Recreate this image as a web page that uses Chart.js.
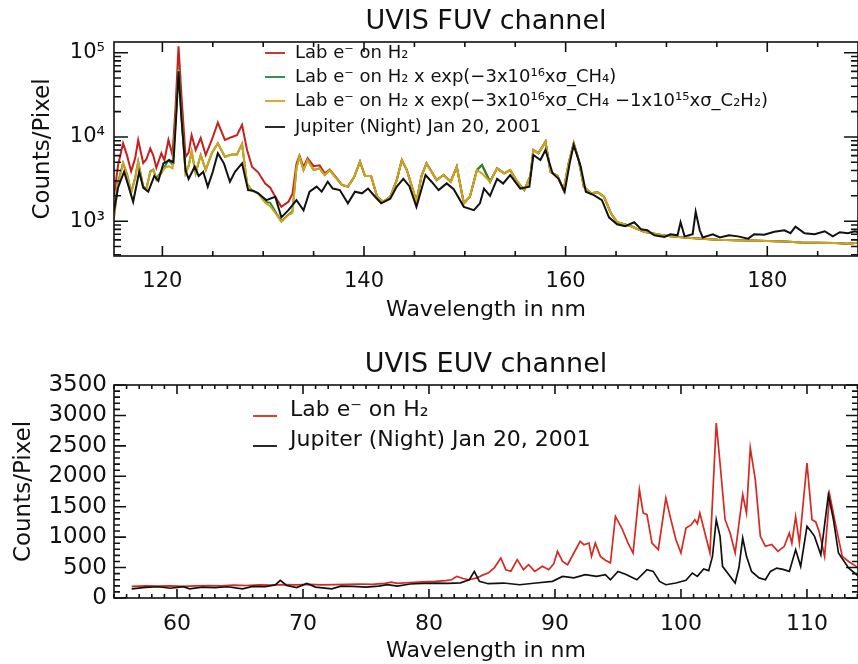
<!DOCTYPE html>
<html>
<head>
<meta charset="utf-8">
<script src="https://cdn.jsdelivr.net/npm/chart.js@4.4.1/dist/chart.umd.min.js"></script>
<style>
  html, body { margin: 0; padding: 0; background: #fff; }
  body { width: 858px; height: 664px; position: relative; overflow: hidden; }
  canvas { position: absolute; left: 0; }
  #fuv { top: 0; }
  #euv { top: 332px; }
</style>
</head>
<body>
<canvas id="fuv" width="858" height="332"></canvas>
<canvas id="euv" width="858" height="332"></canvas>
<script>
// ==================== FUV CHANNEL DATA ====================
// lab spectra share one wavelength grid (nm)
const labWave = [
  115.2, 115.6, 116.1, 116.5, 116.9, 117.3, 117.6, 118.1, 118.4, 118.8,
  119.1, 119.4, 119.9, 120.2, 120.6, 121.0, 121.3, 121.6, 121.9, 122.3,
  122.6, 122.9, 123.3, 123.8, 124.3, 124.9, 125.5, 126.2, 126.9, 127.4,
  127.9, 128.4, 128.9, 129.5, 130.2, 130.7, 131.2, 131.8, 132.5, 132.9,
  133.3, 133.6, 134.0, 134.4, 135.0, 135.6, 136.1, 136.6, 137.3, 137.8,
  138.4, 139.0, 139.6, 140.1, 140.7, 141.3, 141.9, 142.6, 143.25, 143.75,
  144.25, 144.75, 145.2, 145.7, 146.2, 146.7, 147.2, 147.9, 148.6, 149.2,
  149.9, 150.5, 151.2, 151.7, 152.5, 153.2, 153.9, 154.5, 155.2, 155.9,
  156.5, 156.8, 157.3, 158.0, 158.5, 159.2, 159.8, 160.3, 160.8, 161.3,
  161.8, 162.5, 163.2, 163.8, 164.5, 165.1, 165.8, 166.5, 167.2, 167.8,
  168.5, 169.1, 170.4, 171.8, 173.5, 175.1, 176.8, 178.4, 180.0, 181.7,
  183.4, 185.0, 186.7, 188.0, 189.0
];
// Lab e- on H2 (red)
const labH2 = [
  2000, 4600, 8400, 6000, 3900, 5600, 9200, 4900, 5400, 7300,
  6000, 4300, 6400, 5300, 9200, 6100, 22000, 119000, 30000, 5800,
  6500, 10500, 7000, 9700, 6100, 9200, 14800, 9200, 10000, 10500,
  13900, 7000, 4400, 3800, 2800, 2500, 1950, 1480, 1700, 2100,
  4800, 6000, 4400, 5600, 4500, 4600, 3700, 4100, 3250, 2700,
  2570, 3300, 5090, 3440, 3440, 1950, 1700, 1950, 3080, 5320,
  4050, 2570, 1700, 3440, 4860, 3860, 3080, 3530, 2940, 4430,
  1630, 1950, 4050, 4650, 2940, 4240, 3700, 4050, 2940, 2340,
  3440, 7000, 6400, 8800, 3860, 3440, 2340, 4860, 8400, 5320,
  2570, 2140, 2200, 1950, 1240, 970, 920, 870, 800, 750,
  720, 700, 660, 640, 620, 600, 595, 590, 580, 575,
  560, 555, 550, 540, 555
];
// x exp(-3e16 sigma_CH4) (green)
const labCH4 = [
  1150, 2900, 4900, 3600, 2200, 3300, 5100, 2600, 2400, 3900,
  4100, 3200, 3900, 4400, 5300, 4700, 15000, 66000, 18000, 3700,
  4500, 6680, 3700, 6100, 4050, 6400, 8400, 5830, 6200, 6200,
  8260, 2800, 2300, 2150, 1700, 1650, 1300, 1000, 1200, 1300,
  4300, 5830, 4050, 5320, 4050, 4240, 3530, 4050, 3180, 2700,
  2570, 3300, 5090, 3440, 3440, 1950, 1700, 1950, 3080, 5320,
  4050, 2570, 1700, 3440, 4860, 3860, 3080, 3530, 2940, 4430,
  1630, 1950, 4050, 4650, 2940, 4240, 3700, 4050, 2940, 2340,
  3440, 7000, 6400, 8800, 3860, 3440, 2340, 4860, 8400, 5320,
  2570, 2140, 2200, 1950, 1240, 970, 920, 870, 800, 750,
  720, 700, 660, 640, 620, 600, 595, 590, 580, 575,
  560, 555, 550, 540, 555
];
// x exp(-3e16 sigma_CH4 - 1e15 sigma_C2H2) (yellow)
const labCH4C2H2 = [
  1080, 2700, 4860, 3500, 2140, 3200, 5090, 2500, 2340, 3800,
  4050, 3080, 3700, 4240, 4500, 4240, 14000, 63000, 17000, 3700,
  4500, 6680, 3700, 6100, 4050, 6400, 8400, 5830, 6200, 6200,
  8260, 2800, 2300, 2140, 1650, 1500, 1250, 980, 1180, 1260,
  4300, 5830, 4050, 5320, 4050, 4240, 3530, 4050, 3180, 2700,
  2570, 3300, 5090, 3440, 3440, 1950, 1700, 1950, 3080, 5320,
  4050, 2570, 1700, 3440, 4860, 3860, 3080, 3530, 2940, 4430,
  1630, 1950, 4050, 3700, 2940, 4240, 3700, 4050, 2940, 2340,
  3440, 7000, 6400, 8800, 3860, 3440, 2340, 4860, 8400, 5320,
  2570, 2140, 2200, 1950, 1240, 970, 920, 870, 800, 750,
  720, 700, 660, 640, 620, 600, 595, 590, 580, 575,
  560, 555, 550, 540, 555
];
// Jupiter (Night) Jan 20, 2001 - FUV
const jupFuvWave = [
  115.2, 115.6, 116.2, 116.6, 117.1, 117.7, 118.1, 118.6, 119.2, 119.6,
  120.1, 120.7, 121.1, 121.35, 121.6, 121.9, 122.3, 122.6, 123.2, 123.6,
  124.05, 124.5, 125.0, 125.5, 126.1, 126.7, 127.2, 127.9, 128.5, 129.0,
  129.5, 130.3, 131.2, 131.8, 132.5, 133.3, 134.0, 134.6, 135.3, 135.8,
  136.4, 136.9, 137.6, 138.4, 139.1, 139.8, 140.4, 141.1, 141.7, 142.6,
  143.25, 143.9, 144.5, 145.2, 146.1, 146.7, 147.4, 148.2, 148.9, 149.9,
  150.9, 151.5, 151.9, 152.5, 153.2, 153.8, 154.5, 155.5, 156.4, 156.8,
  157.5, 158.0, 158.7, 159.3, 159.9, 160.4, 160.8, 161.5, 162.0, 162.8,
  163.6, 164.3, 165.1, 165.9, 166.8, 167.5, 168.1, 168.8, 169.8, 170.4,
  171.1, 171.4, 171.8, 172.6, 172.9, 173.3, 173.6, 174.6, 175.3, 176.2,
  177.1, 178.1, 178.7, 179.7, 180.7, 181.7, 182.3, 182.8, 183.7, 184.7,
  185.7, 186.5, 187.2, 188.0, 188.7, 189.0
];
const jupFuv = [
  1300, 2500, 3860, 2700, 1700, 3860, 2500, 2240, 3440, 3000,
  4860, 5320, 5000, 16000, 60000, 16000, 4000, 3180, 4430, 3440,
  3860, 2570, 3860, 6400, 4860, 2940, 3860, 4860, 2340, 2300,
  2140, 1780, 1950, 1110, 1350, 1780, 1350, 2240, 2570, 2240,
  2940, 2440, 2340, 1630, 2240, 2140, 2440, 1950, 1630, 1850,
  2570, 3180, 2600, 1480, 3530, 2940, 2340, 2810, 2400, 1480,
  1350, 1630, 2440, 2000, 3180, 2800, 3530, 2440, 2570, 6100,
  5320, 7000, 3700, 3180, 2240, 4860, 8000, 4430, 2240, 2040,
  1780, 1110, 920, 870, 970, 800, 780, 680, 650, 700,
  680, 970, 660, 700, 1290, 780, 640, 700, 640, 680,
  660, 620, 700, 690, 750, 780, 720, 860, 720, 700,
  760, 660, 740, 720, 760, 740
];
const fuvXTicks = [120, 140, 160, 180];
const fuvYTicks = [1e3, 1e4, 1e5];

// ==================== EUV CHANNEL DATA ====================
const euvLabWave = [
  56.4, 57.5, 58.5, 59.5, 60.5, 61.5, 62.5, 63.5, 64.5, 65.5,
  66.5, 67.5, 68.5, 69.5, 70.5, 71.5, 72.5, 73.5, 74.5, 75.5,
  76.5, 77.0, 77.5, 78.5, 79.5, 80.5, 81.3, 81.8, 82.2, 82.7,
  83.2, 83.8, 84.3, 84.7, 85.2, 85.7, 86.1, 86.5, 87.0, 87.5,
  87.9, 88.4, 89.0, 89.5, 89.9, 90.2, 90.6, 91.0, 91.5, 92.0,
  92.3, 92.7, 92.9, 93.2, 93.6, 94.0, 94.4, 94.8, 95.3, 95.8,
  96.2, 96.7, 97.0, 97.3, 97.7, 98.2, 98.8, 99.2, 99.6, 100.0,
  100.4, 100.8, 101.1, 101.3, 101.5, 101.9, 102.3, 102.8, 103.1, 103.5,
  103.9, 104.3, 104.9, 105.2, 105.5, 105.9, 106.3, 106.7, 107.2, 107.7,
  108.2, 108.6, 108.8, 109.1, 109.4, 110.0, 110.4, 110.7, 111.0, 111.4,
  111.8, 112.3, 112.8, 113.3, 113.9, 114.2
];
const euvLab = [
  190, 200, 195, 200, 190, 200, 205, 200, 210, 205,
  215, 210, 220, 215, 225, 215, 220, 225, 230, 225,
  240, 260, 240, 255, 265, 273, 285, 300, 355, 320,
  300, 330, 380, 410, 500, 657, 465, 440, 630, 465,
  547, 437, 520, 465, 560, 766, 601, 547, 739, 930,
  876, 903, 684, 903, 684, 620, 575, 1340, 1150, 903,
  739, 1780, 1397, 1370, 903, 794, 1643, 1287, 958, 739,
  1150, 1200, 1287, 1220, 1397, 1068, 739, 2875, 2218, 1287,
  1068, 739, 1697, 1397, 2465, 1944, 1013, 849, 880, 766,
  849, 1068, 900, 1340, 903, 2218, 1287, 1250, 1068, 684,
  1697, 1177, 684, 600, 520, 465
];
const euvJupWave = [
  56.4, 57.5, 58.5, 59.5, 60.5, 61.0, 62.0, 63.0, 64.0, 65.2,
  66.0, 67.0, 67.8, 68.2, 68.7, 69.5, 70.3, 71.0, 72.3, 73.0,
  74.0, 75.0, 76.0, 76.7, 77.5, 78.5, 79.5, 80.5, 81.5, 82.5,
  83.2, 83.6, 84.0, 84.7, 85.9, 87.2, 88.5, 89.8, 90.6, 91.5,
  92.4, 93.3, 94.0, 94.4, 95.0, 95.6, 96.5, 97.3, 97.8, 98.3,
  98.8, 99.6, 100.4, 100.9, 101.3, 101.8, 102.2, 102.5, 102.8, 103.1,
  103.3, 103.7, 104.3, 104.6, 104.9, 105.2, 105.6, 106.2, 106.7, 107.1,
  107.6, 108.1, 108.6, 109.1, 109.5, 110.0, 110.3, 110.6, 111.1, 111.7,
  112.1, 112.5, 113.3, 114.1
];
const euvJup = [
  150, 175, 185, 160, 185, 150, 180, 170, 185, 150,
  190, 185, 215, 290, 205, 170, 240, 180, 150, 195,
  190, 180, 195, 220, 195, 230, 240, 246, 240, 250,
  300, 437, 273, 235, 246, 218, 246, 273, 355, 330,
  383, 355, 383, 300, 437, 390, 300, 465, 437, 273,
  218, 246, 290, 410, 355, 476, 450, 684, 1287, 1013,
  520, 410, 246, 500, 986, 684, 437, 330, 300, 437,
  492, 470, 437, 794, 520, 1177, 1100, 1013, 712, 1697,
  1287, 739, 493, 355
];
const euvXTicks = [60, 70, 80, 90, 100, 110];
const euvYTicks = [0, 500, 1000, 1500, 2000, 2500, 3000, 3500];

// ==================== HELPERS ====================
const FONT = "'DejaVu Sans', 'Liberation Sans', sans-serif";
const INK = '#111111';
const SUP = { 3: '\u00B3', 4: '\u2074', 5: '\u2075' };

function pts(xs, ys) {
  return xs.map((x, i) => ({ x: x, y: ys[i] }));
}

// order: higher numbers are painted first, so the last listed curve ends up on top
function line(label, xs, ys, color, width, order) {
  return { label: label, data: pts(xs, ys), borderColor: color, borderWidth: width,
           pointRadius: 0, tension: 0, fill: false, order: order };
}

// -------------------- IDL style frame, ticks, title, legend --------------------
const idlFrame = {
  id: 'idlFrame',
  afterDatasetsDraw(chart, args, o) {
    const { ctx, chartArea: a, scales } = chart;
    const sx = scales.x, sy = scales.y;
    ctx.save();
    ctx.strokeStyle = INK;
    ctx.lineWidth = 1.6;
    ctx.strokeRect(a.left, a.top, a.right - a.left, a.bottom - a.top);

    ctx.beginPath();
    const xTick = (v, len) => {
      const p = sx.getPixelForValue(v);
      if (p < a.left || p > a.right) return;
      ctx.moveTo(p, a.bottom); ctx.lineTo(p, a.bottom - len);
      ctx.moveTo(p, a.top); ctx.lineTo(p, a.top + len);
    };
    const yTick = (v, len) => {
      const p = sy.getPixelForValue(v);
      if (p < a.top - 0.5 || p > a.bottom + 0.5) return;
      ctx.moveTo(a.left, p); ctx.lineTo(a.left + len, p);
      ctx.moveTo(a.right, p); ctx.lineTo(a.right - len, p);
    };
    o.xMajor.forEach(v => xTick(v, o.xMajorLen));
    o.xMinor.forEach(v => xTick(v, o.xMinorLen));
    o.yMajor.forEach(v => yTick(v, o.yMajorLen));
    o.yMinor.forEach(v => yTick(v, o.yMinorLen));
    ctx.stroke();

    // title
    ctx.fillStyle = INK;
    ctx.font = o.titleSize + 'px ' + FONT;
    ctx.textAlign = 'center';
    ctx.textBaseline = 'middle';
    ctx.fillText(o.title, (a.left + a.right) / 2, o.titleY);

    // legend inside the plot
    ctx.font = o.legendSize + 'px ' + FONT;
    ctx.textAlign = 'left';
    ctx.lineWidth = 1.8;
    chart.data.datasets.forEach((ds, i) => {
      const y = o.legendRows[i];
      ctx.strokeStyle = ds.borderColor;
      ctx.beginPath();
      ctx.moveTo(o.legendX0, y + o.legendLineDy);
      ctx.lineTo(o.legendX1, y + o.legendLineDy);
      ctx.stroke();
      ctx.fillStyle = INK;
      ctx.fillText(ds.label, o.legendTextX, y);
    });
    ctx.restore();
  }
};

function minorSteps(from, to, step, skip) {
  const out = [];
  for (let v = from; v <= to + 1e-9; v += step) {
    const r = Math.round(v * 1000) / 1000;
    if (r % skip !== 0) out.push(r);
  }
  return out;
}

const logMinor = [];
[100, 1000, 10000, 100000].forEach(d => {
  for (let m = 2; m <= 9; m++) logMinor.push(m * d);
});

function axisTitle(text, size, pad) {
  return { display: true, text: text, color: INK, font: { family: FONT, size: size }, padding: pad };
}

// ==================== FUV CHART ====================
new Chart(document.getElementById('fuv'), {
  type: 'line',
  data: {
    datasets: [
      line('Lab e\u207B on H\u2082', labWave, labH2, '#c8201f', 2, 4),
      line('Lab e\u207B on H\u2082 x exp(\u22123x10\u00B9\u2076x\u03C3_CH\u2084)', labWave, labCH4, '#1d8a3a', 2, 3),
      line('Lab e\u207B on H\u2082 x exp(\u22123x10\u00B9\u2076x\u03C3_CH\u2084 \u22121x10\u00B9\u2075x\u03C3_C\u2082H\u2082)', labWave, labCH4C2H2, '#d6a21a', 2, 2),
      line('Jupiter (Night) Jan 20, 2001', jupFuvWave, jupFuv, '#111111', 2, 1)
    ]
  },
  options: {
    responsive: false,
    animation: false,
    devicePixelRatio: 1,
    layout: { padding: { top: 42, right: 0, bottom: 0, left: 0 } },
    plugins: {
      legend: { display: false },
      tooltip: { enabled: false },
      idlFrame: {
        title: 'UVIS FUV channel', titleSize: 27, titleY: 22,
        xMajor: fuvXTicks, xMinor: minorSteps(115, 190, 5, 20), xMajorLen: 10, xMinorLen: 5,
        yMajor: fuvYTicks, yMinor: logMinor, yMajorLen: 14, yMinorLen: 7,
        legendSize: 18, legendRows: [53, 77, 101, 127], legendX0: 265, legendX1: 285,
        legendLineDy: 0, legendTextX: 295
      }
    },
    scales: {
      x: {
        type: 'linear', min: 115.2, max: 189.0,
        afterBuildTicks: s => { s.ticks = fuvXTicks.map(v => ({ value: v })); },
        afterFit: s => { s.height = 76; },
        grid: { display: false, drawTicks: false },
        border: { display: false },
        ticks: { color: INK, font: { family: FONT, size: 21 }, padding: 13, maxRotation: 0, autoSkip: false },
        title: axisTitle('Wavelength in nm', 22, { top: 0, bottom: 9 })
      },
      y: {
        type: 'logarithmic', min: 386, max: 134000,
        afterBuildTicks: s => { s.ticks = fuvYTicks.map(v => ({ value: v })); },
        afterFit: s => { s.width = 114; },
        grid: { display: false, drawTicks: false },
        border: { display: false },
        ticks: { color: INK, font: { family: FONT, size: 21 }, padding: 9, autoSkip: false,
                 callback: v => '10' + SUP[Math.round(Math.log10(v))] },
        title: axisTitle('Counts/Pixel', 23, { top: 29, bottom: 0 })
      }
    }
  },
  plugins: [idlFrame]
});

// ==================== EUV CHART ====================
new Chart(document.getElementById('euv'), {
  type: 'line',
  data: {
    datasets: [
      line('Lab e\u207B on H\u2082', euvLabWave, euvLab, '#d42a22', 1.7, 2),
      line('Jupiter (Night) Jan 20, 2001', euvJupWave, euvJup, '#111111', 1.7, 1)
    ]
  },
  options: {
    responsive: false,
    animation: false,
    devicePixelRatio: 1,
    layout: { padding: { top: 53, right: 0, bottom: 0, left: 0 } },
    plugins: {
      legend: { display: false },
      tooltip: { enabled: false },
      idlFrame: {
        title: 'UVIS EUV channel', titleSize: 27, titleY: 33,
        xMajor: euvXTicks, xMinor: minorSteps(55, 115, 1, 10), xMajorLen: 9, xMinorLen: 4,
        yMajor: euvYTicks, yMinor: minorSteps(0, 3500, 100, 500), yMajorLen: 12, yMinorLen: 6,
        legendSize: 22, legendRows: [78, 108], legendX0: 253, legendX1: 277,
        legendLineDy: 6, legendTextX: 290
      }
    },
    scales: {
      x: {
        type: 'linear', min: 55, max: 114.05,
        afterBuildTicks: s => { s.ticks = euvXTicks.map(v => ({ value: v })); },
        afterFit: s => { s.height = 66; },
        grid: { display: false, drawTicks: false },
        border: { display: false },
        ticks: { color: INK, font: { family: FONT, size: 22 }, padding: 13, maxRotation: 0, autoSkip: false },
        title: axisTitle('Wavelength in nm', 22, { top: 0, bottom: 0 })
      },
      y: {
        type: 'linear', min: 0, max: 3500,
        afterBuildTicks: s => { s.ticks = euvYTicks.map(v => ({ value: v })); },
        afterFit: s => { s.width = 114; },
        grid: { display: false, drawTicks: false },
        border: { display: false },
        ticks: { color: INK, font: { family: FONT, size: 23 }, padding: 7, autoSkip: false,
                 callback: v => String(v) },
        title: axisTitle('Counts/Pixel', 23, { top: 10, bottom: 0 })
      }
    }
  },
  plugins: [idlFrame]
});
</script>
</body>
</html>
